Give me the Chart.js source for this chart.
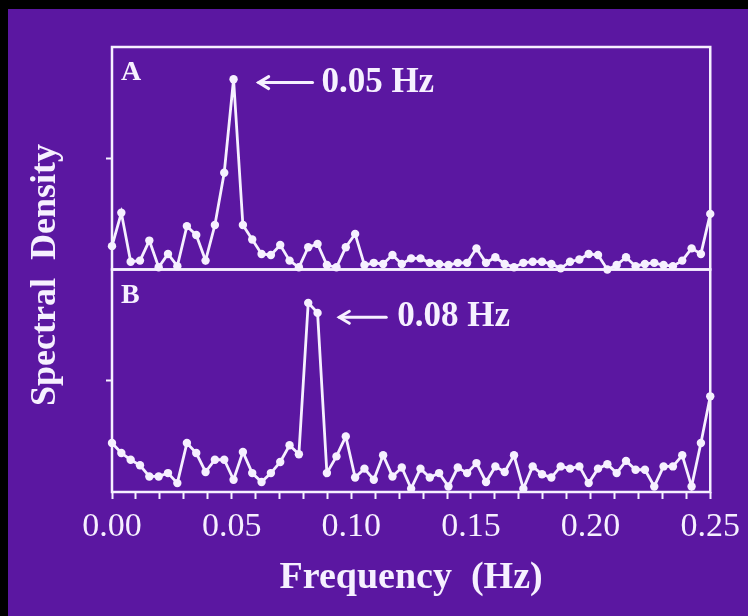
<!DOCTYPE html>
<html><head><meta charset="utf-8">
<script src="https://cdn.jsdelivr.net/npm/chart.js@4.4.0/dist/chart.umd.min.js"></script>
<style>
html,body{margin:0;padding:0;background:#000;width:748px;height:616px;overflow:hidden;}
#bg{position:absolute;left:8px;top:9px;width:740px;height:607px;background:#5b17a1;}
#wrap{position:absolute;left:0;top:0;width:748px;height:616px;}
</style></head><body>
<div id="bg"></div>
<div id="wrap"><canvas id="c" width="748" height="616"></canvas></div>
<script>
// Frequencies (Hz)
const frequencies = [0.0000,0.0039,0.0078,0.0117,0.0156,0.0195,0.0234,0.0273,0.0313,0.0352,
  0.0391,0.0430,0.0469,0.0508,0.0547,0.0586,0.0625,0.0664,0.0703,0.0742,
  0.0781,0.0820,0.0859,0.0898,0.0938,0.0977,0.1016,0.1055,0.1094,0.1133,
  0.1172,0.1211,0.1250,0.1289,0.1328,0.1367,0.1406,0.1445,0.1484,0.1523,
  0.1563,0.1602,0.1641,0.1680,0.1719,0.1758,0.1797,0.1836,0.1875,0.1914,
  0.1953,0.1992,0.2031,0.2070,0.2109,0.2148,0.2188,0.2227,0.2266,0.2305,
  0.2344,0.2383,0.2422,0.2461,0.2500];
// Panel A spectral density
const densityA = [0.21,0.51,0.07,0.08,0.26,0.02,0.14,0.03,0.39,0.31,
  0.08,0.40,0.87,1.71,0.40,0.27,0.14,0.13,0.22,0.08,
  0.02,0.20,0.23,0.04,0.02,0.20,0.32,0.04,0.06,0.05,
  0.13,0.05,0.10,0.10,0.06,0.05,0.04,0.06,0.06,0.19,
  0.06,0.11,0.05,0.02,0.06,0.07,0.07,0.05,0.01,0.07,
  0.09,0.14,0.13,0.00,0.04,0.11,0.03,0.05,0.06,0.04,
  0.03,0.08,0.19,0.14,0.50];
// Panel B spectral density
const densityB = [0.44,0.35,0.29,0.24,0.14,0.14,0.17,0.08,0.44,0.35,
  0.18,0.29,0.29,0.11,0.36,0.17,0.09,0.17,0.27,0.42,
  0.34,1.70,1.61,0.17,0.32,0.50,0.13,0.21,0.11,0.33,
  0.14,0.22,0.03,0.21,0.13,0.17,0.05,0.22,0.17,0.26,
  0.09,0.23,0.18,0.33,0.03,0.23,0.16,0.13,0.23,0.21,
  0.23,0.08,0.21,0.25,0.17,0.28,0.20,0.20,0.05,0.23,
  0.23,0.33,0.05,0.44,0.86];
const tickLabels = ["0.00","0.05","0.10","0.15","0.20","0.25"];
const panelNames = ["A","B"];
const peakLabels = ["0.05 Hz","0.08 Hz"];
const xTitle = "Frequency  (Hz)";
const yTitle = "Spectral  Density";

const FG = '#f6f0ff';
const SERIF = "'Liberation Serif', 'DejaVu Serif', serif";
Chart.defaults.font.family = SERIF;
Chart.defaults.color = FG;

const annot = {
  panels: [
    {scale:'yA', name:0, peak:0, tip:[0.0613,1.68], tail:[0.0838,1.68], text:[0.0875,1.68]},
    {scale:'yB', name:1, peak:1, tip:[0.0950,1.57], tail:[0.1146,1.57], text:[0.1192,1.57]}
  ]
};

const decor = {
  id: 'decor',
  beforeDatasetsDraw(chart) {
    const ctx = chart.ctx, x = chart.scales.x;
    ctx.save();
    ctx.strokeStyle = FG; ctx.lineWidth = 2.5;
    ['yA','yB'].forEach(id => {
      const s = chart.scales[id];
      ctx.strokeRect(x.left, s.top, x.right - x.left, s.bottom - s.top);
    });
    ctx.restore();
  },
  afterDatasetsDraw(chart) {
    const ctx = chart.ctx, x = chart.scales.x;
    ctx.save();
    ctx.fillStyle = FG; ctx.strokeStyle = FG;
    annot.panels.forEach(p => {
      const s = chart.scales[p.scale];
      ctx.font = "bold 28px " + SERIF;
      ctx.textAlign = 'left'; ctx.textBaseline = 'alphabetic';
      ctx.fillText(panelNames[p.name], x.left + 9, s.top + 33);
      const tx = x.getPixelForValue(p.tip[0]), ty = s.getPixelForValue(p.tip[1]);
      const ex = x.getPixelForValue(p.tail[0]);
      ctx.lineWidth = 3; ctx.lineCap = 'round';
      ctx.beginPath(); ctx.moveTo(ex, ty); ctx.lineTo(tx, ty); ctx.stroke();
      ctx.beginPath(); ctx.moveTo(tx + 10, ty - 6); ctx.lineTo(tx, ty); ctx.lineTo(tx + 10, ty + 6); ctx.stroke();
      ctx.font = "bold 35px " + SERIF;
      ctx.textBaseline = 'middle';
      ctx.fillText(peakLabels[p.peak], x.getPixelForValue(p.text[0]), s.getPixelForValue(p.text[1]));
    });
    ctx.translate(46, 275);
    ctx.rotate(-Math.PI / 2);
    ctx.font = "bold 36px " + SERIF;
    ctx.textAlign = 'center'; ctx.textBaseline = 'middle';
    ctx.fillText(yTitle, 0, 0);
    ctx.restore();
  }
};

const yScale = () => ({
  type: 'linear', position: 'left', stack: 'spec', stackWeight: 1,
  min: 0, max: 2,
  ticks: { display: false, stepSize: 1 },
  grid: { display: true, drawOnChartArea: false, drawTicks: true, tickLength: 6, tickWidth: 2,
          tickColor: (c) => (c.tick && c.tick.value === 1) ? FG : 'rgba(0,0,0,0)' },
  border: { display: false },
  afterFit: (s) => { s.width = 20; }
});

const mk = (arr) => frequencies.map((f, i) => ({x: f, y: arr[i]}));
const ds = (label, arr, axis) => ({
  label, data: mk(arr), yAxisID: axis,
  borderColor: FG, borderWidth: 2.8, tension: 0,
  pointRadius: 4.2, pointBackgroundColor: FG, pointBorderWidth: 0,
  clip: 6
});

new Chart(document.getElementById('c'), {
  type: 'line',
  data: { datasets: [ ds('A', densityA, 'yA'), ds('B', densityB, 'yB') ] },
  options: {
    responsive: false, animation: false, devicePixelRatio: 1,
    layout: { padding: { left: 92, right: 36, top: 47, bottom: 0 } },
    plugins: { legend: { display: false }, tooltip: { enabled: false } },
    scales: {
      x: {
        type: 'linear', position: 'bottom', min: 0, max: 0.25,
        ticks: { stepSize: 0.01, autoSkip: false, maxRotation: 0, color: FG, padding: 8,
                 font: { size: 34 },
                 callback: (v) => { const i = Math.round(v * 100); return i % 5 === 0 ? tickLabels[i / 5] : ''; } },
        grid: { display: true, drawOnChartArea: false, drawTicks: true, tickLength: 7, tickWidth: 2, tickColor: FG },
        border: { display: false },
        title: { display: true, text: xTitle, color: FG, font: { size: 38, weight: 'bold' }, padding: { top: 0, bottom: 15 } },
        afterFit: (s) => { s.height = 124; }
      },
      yB: yScale(),
      yA: yScale()
    }
  },
  plugins: [decor]
});
</script>
</body></html>
